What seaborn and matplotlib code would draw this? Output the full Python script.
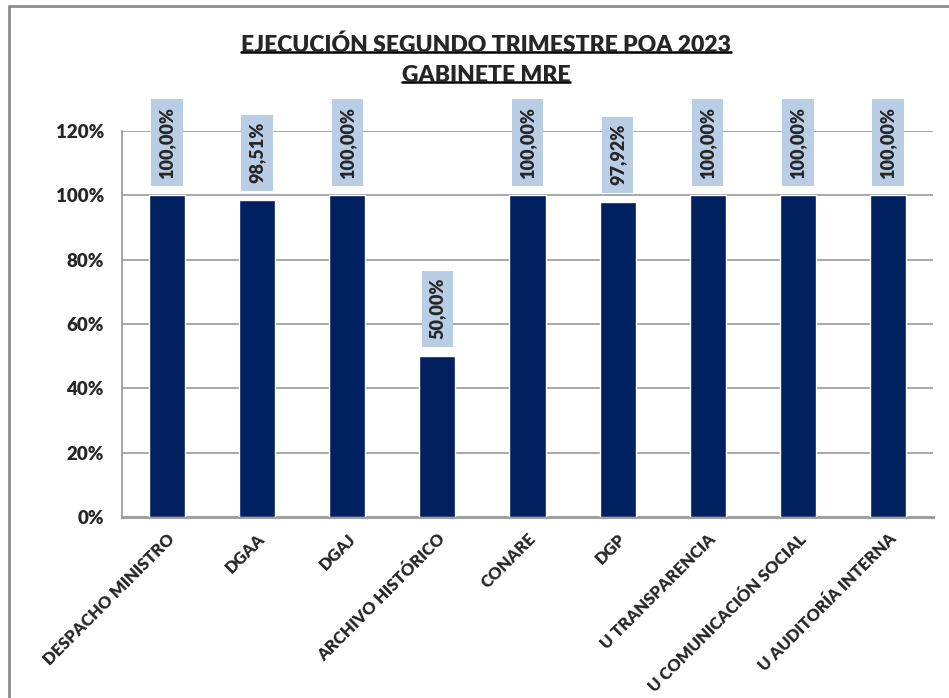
import matplotlib
matplotlib.use("Agg")
import matplotlib.pyplot as plt
import seaborn as sns
from matplotlib.lines import Line2D
from matplotlib.ticker import PercentFormatter

# Data
categories = ["DESPACHO MINISTRO", "DGAA", "DGAJ", "ARCHIVO HISTÓRICO", "CONARE",
              "DGP", "U TRANSPARENCIA", "U COMUNICACIÓN SOCIAL", "U AUDITORÍA INTERNA"]
values = [1.0, 0.9851, 1.0, 0.50, 1.0, 0.9792, 1.0, 1.0, 1.0]
title_lines = ["EJECUCIÓN SEGUNDO TRIMESTRE POA 2023", "GABINETE MRE"]

BAR = "#002060"
BOX = "#B9CDE5"
GRID = "#A0A0A0"
W = "heavy"

sns.set_style("white")
plt.rcParams["font.family"] = ["Lato", "DejaVu Sans"]
plt.rcParams["font.weight"] = "bold"

fig = plt.figure(figsize=(9.49, 6.98), dpi=100)
ax = fig.add_axes([122 / 949, 1 - 517 / 698, 811 / 949, 386 / 698])

sns.barplot(x=categories, y=values, color=BAR, saturation=1, width=0.4, ax=ax, zorder=3)

ax.set_ylim(0, 1.2)
ax.set_xlim(-0.5, len(categories) - 0.5)
ax.set_yticks([0, 0.2, 0.4, 0.6, 0.8, 1.0, 1.2])
ax.yaxis.set_major_formatter(PercentFormatter(1.0, decimals=0))
ax.grid(axis="y", color=GRID, lw=1.3, zorder=0)
ax.set_axisbelow(True)
for s in ["top", "right"]:
    ax.spines[s].set_visible(False)
ax.spines["left"].set_color(GRID)
ax.spines["left"].set_linewidth(1.3)
ax.spines["bottom"].set_color(GRID)
ax.spines["bottom"].set_linewidth(2.2)
ax.tick_params(axis="y", length=0, labelsize=13.5, pad=13)
ax.set_xlabel("")
ax.set_ylabel("")
for lab in ax.get_yticklabels():
    lab.set_fontweight(W)
ax.set_xticks(range(len(categories)))
ax.set_xticklabels(categories, rotation=45, ha="right", rotation_mode="anchor",
                   fontweight=W, fontsize=12)
ax.tick_params(axis="x", length=0, pad=10)

# value labels in boxes
for i, v in enumerate(values):
    txt = f"{v * 100:.2f}%".replace(".", ",")
    ax.annotate(txt, xy=(i, v), xytext=(0, 12), textcoords="offset points",
                rotation=90, ha="center", va="bottom", fontsize=13, fontweight=W,
                annotation_clip=False, zorder=5,
                bbox=dict(boxstyle="square,pad=0.4", fc=BOX, ec="none"))

# title with underline
t1 = fig.text(486 / 949, 1 - 45 / 698, title_lines[0], ha="center", va="center",
              fontsize=16.5, fontweight=W)
t2 = fig.text(486 / 949, 1 - 75 / 698, title_lines[1], ha="center", va="center",
              fontsize=16.5, fontweight=W)
fig.canvas.draw()
r = fig.canvas.get_renderer()
for t in (t1, t2):
    bb = t.get_window_extent(r).transformed(fig.transFigure.inverted())
    y = bb.y0 + 0.005
    fig.add_artist(Line2D([bb.x0, bb.x1], [y, y], color="black", lw=1.8,
                          transform=fig.transFigure))

# outer border (cut at right/bottom like the reference)
fig.add_artist(Line2D([9 / 949, 9 / 949], [0, 1 - 6 / 698], color="#8C8C8C", lw=2,
                      transform=fig.transFigure))
fig.add_artist(Line2D([9 / 949, 1], [1 - 6 / 698, 1 - 6 / 698], color="#8C8C8C", lw=2,
                      transform=fig.transFigure))

fig.savefig("out.png", dpi=100)
